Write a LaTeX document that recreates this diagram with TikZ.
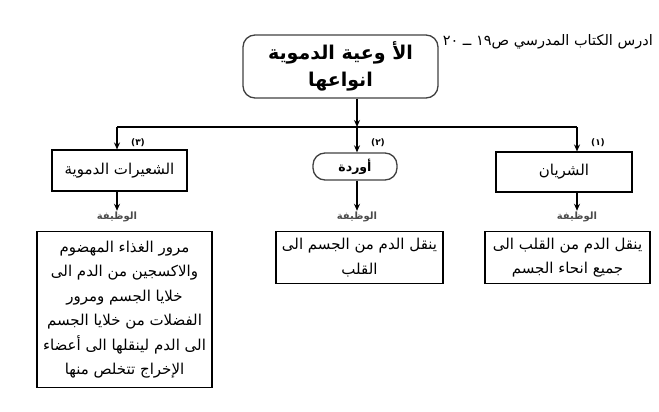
\documentclass[tikz,border=0pt]{standalone}
\usepackage{fontspec}
\newfontfamily\arabicfont[Script=Arabic]{DejaVu Sans}
\TeXXeTstate=1
\usetikzlibrary{arrows.meta}

\newcommand{\ar}[1]{{\arabicfont\beginR #1\endR}}

\tikzset{
  plainbox/.style={draw, line width=1.1pt, inner sep=2pt, align=center, font=\fontsize{15}{24.5}\selectfont},
  roundbox/.style={draw=black!75, line width=1.3pt, rounded corners=12pt, align=center},
  func/.style={font=\bfseries\fontsize{10}{11}\selectfont, text=black!70, inner sep=1pt},
  numlabel/.style={font=\bfseries\fontsize{9}{10}\selectfont, inner sep=1pt},
  link/.style={line width=1.4pt, -{Stealth[length=7pt,width=6pt]}}
}

\begin{document}
\begin{tikzpicture}[x=1pt, y=-1pt]
  \useasboundingbox (0,0) rectangle (659,412);

  %title box
  \node[roundbox, minimum width=195pt, minimum height=63pt,
        font=\bfseries\fontsize{19}{27}\selectfont] (vessels) at (340.5,66.5)
        {\ar{الأ وعية الدموية}\\\ar{انواعها}};
  \node[anchor=east, font=\fontsize{14.5}{16}\selectfont, inner sep=0pt] (note) at (653,42)
        {\ar{ادرس الكتاب المدرسي ص\beginL١٩\endL{} ــ \beginL٢٠\endL{}}};

  %three kinds
  \node[plainbox, minimum width=135pt, minimum height=41pt] (capillary) at (119.5,170.5) {\ar{الشعيرات الدموية}};
  \node[roundbox, minimum width=84pt, minimum height=27pt, inner sep=2pt,
        font=\bfseries\fontsize{12.5}{14}\selectfont] (veins) at (355,166.5) {\ar{أوردة}};
  \node[plainbox, minimum width=136pt, minimum height=40pt] (artery) at (564,172) {\ar{الشريان}};

  %bar
  \coordinate (bar1) at (117,127);
  \coordinate (bar2) at (357,127);
  \coordinate (bar3) at (577,127);
  \draw[link] (vessels.south -| bar2) -- (bar2);
  \draw[line width=1.4pt] (bar1) -- (bar3);

  \foreach \i/\num/\name in {1/٣/capillary, 2/٢/veins, 3/١/artery}{
    \draw[link] (bar\i) -- (bar\i |- \name.north);
    \node[numlabel] (num\i) at ([xshift=21pt]bar\i |- 0,143) {\ar{(\num)}};
    \node[func] (func\i) at (bar\i |- 0,217) {\ar{الوظيفة}};
    \draw[link] (bar\i |- \name.south) -- (func\i.north);
  }

  %functions
  \node[plainbox, minimum width=175pt, minimum height=156pt, anchor=north] (capwork) at (124.5,231)
        {\ar{مرور الغذاء المهضوم}\\\ar{والاكسجين من الدم الى}\\\ar{خلايا الجسم ومرور}\\
         \ar{الفضلات من خلايا الجسم}\\\ar{الى الدم لينقلها الى أعضاء}\\\ar{الإخراج تتخلص منها}};
  \node[plainbox, minimum width=167pt, minimum height=52pt, anchor=north] (veinwork) at (359.5,231)
        {\ar{ينقل الدم من الجسم الى}\\\ar{القلب}};
  \node[plainbox, minimum width=165pt, minimum height=52pt, anchor=north] (artwork) at (567.5,231)
        {\ar{ينقل الدم من القلب الى}\\\ar{جميع انحاء الجسم}};
\end{tikzpicture}
\end{document}
